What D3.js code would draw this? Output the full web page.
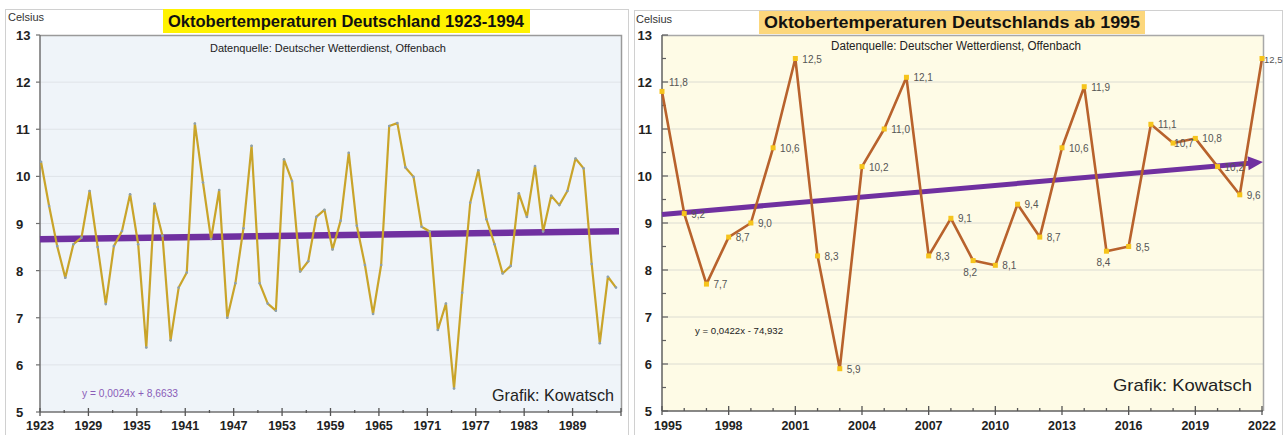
<!DOCTYPE html>
<html><head><meta charset="utf-8">
<script src="https://cdn.jsdelivr.net/npm/d3@7"></script>
<style>
body{margin:0;background:#fff;}
svg{display:block;font-family:"Liberation Sans",Arial,sans-serif;}
</style></head>
<body>
<svg id="c" width="1285" height="435"></svg>
<script>
// ---------- DATA ----------
const leftYears = [1923,1924,1925,1926,1927,1928,1929,1930,1931,1932,1933,1934,1935,1936,1937,1938,1939,1940,1941,1942,1943,1944,1945,1946,1947,1948,1949,1950,1951,1952,1953,1954,1955,1956,1957,1958,1959,1960,1961,1962,1963,1964,1965,1966,1967,1968,1969,1970,1971,1972,1973,1974,1975,1976,1977,1978,1979,1980,1981,1982,1983,1984,1985,1986,1987,1988,1989,1990,1991,1992,1993,1994];
const leftTemps = [10.31,9.37,8.52,7.85,8.56,8.70,9.69,8.5,7.29,8.52,8.84,9.62,8.56,6.37,9.42,8.74,6.52,7.64,7.96,11.12,9.87,8.67,9.71,7.0,7.73,8.9,10.65,7.73,7.3,7.15,10.36,9.9,7.98,8.2,9.14,9.29,8.45,9.06,10.5,8.95,8.12,7.08,8.12,11.07,11.13,10.19,9.99,8.93,8.83,6.74,7.3,5.5,7.53,9.44,10.13,9.09,8.56,7.94,8.1,9.64,9.14,10.22,8.83,9.59,9.39,9.69,10.38,10.17,8.14,6.46,7.87,7.64];
const leftTrend = [8.666, 8.836];           // start / end of linear trend
const leftXTickLabels = [1923,1929,1935,1941,1947,1953,1959,1965,1971,1977,1983,1989];

const rightYears = [1995,1996,1997,1998,1999,2000,2001,2002,2003,2004,2005,2006,2007,2008,2009,2010,2011,2012,2013,2014,2015,2016,2017,2018,2019,2020,2021,2022];
const rightTemps = [11.8,9.2,7.7,8.7,9.0,10.6,12.5,8.3,5.9,10.2,11.0,12.1,8.3,9.1,8.2,8.1,9.4,8.7,10.6,11.9,8.4,8.5,11.1,10.7,10.8,10.2,9.6,12.5];
const rightTrend = [9.18, 10.30];
const rightXTickLabels = [1995,1998,2001,2004,2007,2010,2013,2016,2019,2022];

const yTickLabels = [5,6,7,8,9,10,11,12,13];

const leftTitle = "Oktobertemperaturen Deutschland 1923-1994";
const rightTitle = "Oktobertemperaturen Deutschlands ab 1995";
const sourceText = "Datenquelle: Deutscher Wetterdienst, Offenbach";
const leftEq = "y = 0,0024x + 8,6633";
const rightEq = "y = 0,0422x - 74,932";
const creditText = "Grafik: Kowatsch";
const unitText = "Celsius";

// label placement (style): below instead of right
const belowLabels = {2009:true, 2015:true};

// ---------- DRAW ----------
const svg = d3.select("#c");
const fmt = v => d3.format(".1f")(v).replace(".", ",");

// outer panel frames
svg.append("rect").attr("x",5.5).attr("y",9.5).attr("width",623).attr("height",430).attr("fill","#fff").attr("stroke","#d0d0d0");
svg.append("rect").attr("x",634.5).attr("y",10.5).attr("width",648).attr("height",430).attr("fill","#fff").attr("stroke","#d0d0d0");

function fitText(sel, w){
  sel.attr("textLength", w).attr("lengthAdjust","spacingAndGlyphs");
}

// ===== LEFT CHART =====
(function(){
  const L = {x0:40, x1:621, y0:35, y1:412};
  const x = d3.scaleLinear().domain([1923,1994]).range([41,616]);
  const y = d3.scaleLinear().domain([5,13]).range([L.y1, L.y0]);
  const g = svg.append("g");
  g.append("rect").attr("x",L.x0).attr("y",L.y0).attr("width",L.x1-L.x0).attr("height",L.y1-L.y0)
    .attr("fill","#eff4f9");
  g.selectAll("line.grid").data(yTickLabels.filter(d=>d>5&&d<13)).join("line")
    .attr("x1",L.x0).attr("x2",L.x1).attr("y1",d=>y(d)).attr("y2",d=>y(d))
    .attr("stroke","#dfe3e8").attr("stroke-width",1);
  g.append("path").attr("d",`M${L.x0},${L.y0+0.5}H${L.x1+0.5}V${L.y1}`).attr("fill","none").attr("stroke","#9a9a9a").attr("stroke-width",1.5);
  g.append("line").attr("x1",L.x0).attr("x2",L.x0).attr("y1",L.y0).attr("y2",L.y1).attr("stroke","#707070").attr("stroke-width",1.5);
  g.append("line").attr("x1",L.x0).attr("x2",L.x1).attr("y1",L.y1).attr("y2",L.y1).attr("stroke","#707070").attr("stroke-width",1.5);
  g.selectAll("line.yt").data(yTickLabels).join("line")
    .attr("x1",L.x0-4).attr("x2",L.x0).attr("y1",d=>y(d)).attr("y2",d=>y(d)).attr("stroke","#707070").attr("stroke-width",1.2);
  g.selectAll("text.yl").data(yTickLabels).join("text")
    .attr("x",16).attr("y",d=>y(d)+5).attr("font-size",13).attr("font-weight","bold").attr("fill","#222")
    .text(d=>d);
  const xs = d3.scaleLinear().domain([1923,1995]).range([L.x0, L.x1]);
  const minor = d3.range(1923, 1996, 3);
  g.selectAll("line.xm").data(minor).join("line")
    .attr("x1",d=>xs(d)).attr("x2",d=>xs(d))
    .attr("y1",d=> leftXTickLabels.includes(d)||d===1995 ? L.y1-4 : L.y1-2)
    .attr("y2",d=> leftXTickLabels.includes(d)||d===1995 ? L.y1+4 : L.y1+1)
    .attr("stroke","#555").attr("stroke-width",1.3);
  g.selectAll("text.xl").data(leftXTickLabels).join("text")
    .attr("x",d=>xs(d)).attr("y",430).attr("text-anchor","middle").attr("font-size",12.5).attr("font-weight","bold").attr("fill","#222")
    .text(d=>d);
  g.append("line").attr("x1",L.x0).attr("x2",L.x1-2).attr("y1",y(leftTrend[0])).attr("y2",y(leftTrend[1]))
    .attr("stroke","#7030a0").attr("stroke-width",6.5);
  const line = d3.line().x((d,i)=>x(leftYears[i])).y(d=>y(d));
  g.append("path").datum(leftTemps).attr("d",line).attr("fill","none").attr("stroke","#c9a42a").attr("stroke-width",2.2).attr("stroke-linejoin","round");
  g.selectAll("circle.pt").data(leftTemps).join("circle")
    .attr("cx",(d,i)=>x(leftYears[i])).attr("cy",d=>y(d)).attr("r",1.3).attr("fill","#8aa0b4");
  g.append("text").attr("x",8).attr("y",21).attr("font-size",11).attr("fill","#333").text(unitText);
  const tt = g.append("text").attr("x",346).attr("y",27).attr("text-anchor","middle").attr("font-size",16).attr("font-weight","bold").attr("fill","#111").text(leftTitle);
  fitText(tt, 356);
  g.insert("rect", () => tt.node()).attr("x",163).attr("y",9).attr("width",367).attr("height",24).attr("fill","#fff200");
  const st = g.append("text").attr("x",210).attr("y",52).attr("font-size",11.5).attr("fill","#222")
    .style("font-family","'Liberation Sans Narrow','Arial Narrow',sans-serif").text(sourceText);
  fitText(st, 236);
  const eq = g.append("text").attr("x",82).attr("y",397).attr("font-size",10.5).attr("fill","#8a5cb8").text(leftEq);
  fitText(eq, 96);
  const cr = g.append("text").attr("x",614).attr("y",401).attr("text-anchor","end").attr("font-size",17).attr("fill","#222").text(creditText);
  fitText(cr, 122);
})();

// ===== RIGHT CHART =====
(function(){
  const R = {x0:662, x1:1263, y0:35, y1:411};
  const x = d3.scaleLinear().domain([1995,2022]).range([662,1262]);
  const y = d3.scaleLinear().domain([5,13]).range([R.y1, R.y0]);
  const g = svg.append("g");
  g.append("rect").attr("x",R.x0).attr("y",R.y0).attr("width",R.x1-R.x0).attr("height",R.y1-R.y0)
    .attr("fill","#fefbe6");
  g.selectAll("line.grid").data(yTickLabels.filter(d=>d>5&&d<13)).join("line")
    .attr("x1",R.x0).attr("x2",R.x1).attr("y1",d=>y(d)).attr("y2",d=>y(d))
    .attr("stroke","#dcdcd2").attr("stroke-width",1);
  g.append("path").attr("d",`M${R.x0},${R.y0+0.5}H${R.x1+0.5}V${R.y1}`).attr("fill","none").attr("stroke","#a8a8a8").attr("stroke-width",1.5);
  g.append("line").attr("x1",R.x0).attr("x2",R.x0).attr("y1",R.y0).attr("y2",R.y1).attr("stroke","#606060").attr("stroke-width",1.5);
  g.append("line").attr("x1",R.x0).attr("x2",R.x1).attr("y1",R.y1).attr("y2",R.y1).attr("stroke","#606060").attr("stroke-width",1.5);
  const halfTicks = d3.range(5, 13.01, 0.5);
  g.selectAll("line.yt").data(halfTicks).join("line")
    .attr("x1",R.x0).attr("x2",d=> Number.isInteger(d) ? R.x0+6 : R.x0+4)
    .attr("y1",d=>y(d)).attr("y2",d=>y(d)).attr("stroke","#606060").attr("stroke-width",1.2);
  g.selectAll("text.yl").data(yTickLabels).join("text")
    .attr("x",652).attr("y",d=>y(d)+5).attr("text-anchor","end").attr("font-size",13).attr("font-weight","bold").attr("fill","#222")
    .text(d=>d);
  g.selectAll("line.xt").data(rightYears).join("line")
    .attr("x1",d=>x(d)).attr("x2",d=>x(d))
    .attr("y1",d=> rightXTickLabels.includes(d) ? R.y1-5 : R.y1-3)
    .attr("y2",d=> rightXTickLabels.includes(d) ? R.y1+4 : R.y1)
    .attr("stroke","#555").attr("stroke-width",1.3);
  g.selectAll("text.xl").data(rightXTickLabels).join("text")
    .attr("x",d=>x(d)+(d===1995?6:0)).attr("y",430).attr("text-anchor","middle").attr("font-size",12.5).attr("font-weight","bold").attr("fill","#222")
    .text(d=>d);
  const tx0 = R.x0, tx1 = 1263, ty0 = y(rightTrend[0]), ty1 = y(rightTrend[1]);
  const ang = Math.atan2(ty1-ty0, tx1-tx0);
  const ah = 15, aw = 7;
  const bx = tx1 - ah*Math.cos(ang), by = ty1 - ah*Math.sin(ang);
  g.append("line").attr("x1",tx0).attr("y1",ty0).attr("x2",bx+1).attr("y2",by).attr("stroke","#7030a0").attr("stroke-width",5);
  g.append("path").attr("d",`M${tx1},${ty1}L${bx - aw*Math.sin(ang)},${by + aw*Math.cos(ang)}L${bx + aw*Math.sin(ang)},${by - aw*Math.cos(ang)}Z`).attr("fill","#7030a0");
  const line = d3.line().x((d,i)=>x(rightYears[i])).y(d=>y(d));
  g.append("path").datum(rightTemps).attr("d",line).attr("fill","none").attr("stroke","#b8622c").attr("stroke-width",2.6).attr("stroke-linejoin","round");
  g.selectAll("rect.pt").data(rightTemps).join("rect")
    .attr("x",(d,i)=>x(rightYears[i])-2.5).attr("y",d=>y(d)-2.5).attr("width",5).attr("height",5).attr("fill","#f6c41c");
  const last = rightYears.length - 1;
  g.selectAll("text.lb").data(rightTemps).join("text")
    .attr("x",(d,i)=> belowLabels[rightYears[i]] ? x(rightYears[i])-3 : x(rightYears[i])+ (rightYears[i]===2018?1:(i===last?2:7)))
    .attr("y",(d,i)=> belowLabels[rightYears[i]] ? y(d)+15 : y(d)+ (i===0?-5:4))
    .attr("text-anchor",(d,i)=> belowLabels[rightYears[i]] ? "middle" : "start")
    .attr("font-size",(d,i)=> i===last ? 9.5 : 10).attr("fill","#555").text(d=>fmt(d));
  g.append("text").attr("x",636).attr("y",23).attr("font-size",11).attr("fill","#333").text(unitText);
  const tt = g.append("text").attr("x",952).attr("y",28).attr("text-anchor","middle").attr("font-size",17).attr("font-weight","bold").attr("fill","#111").text(rightTitle);
  fitText(tt, 376);
  g.insert("rect", () => tt.node()).attr("x",759).attr("y",11).attr("width",386).attr("height",23).attr("fill","#fcd77c");
  const st = g.append("text").attr("x",831).attr("y",50).attr("font-size",12).attr("fill","#222")
    .style("font-family","'Liberation Sans Narrow','Arial Narrow',sans-serif").text(sourceText);
  fitText(st, 250);
  const eq = g.append("text").attr("x",695).attr("y",334).attr("font-size",9).attr("fill","#222").text(rightEq);
  fitText(eq, 88);
  const cr = g.append("text").attr("x",1252).attr("y",391).attr("text-anchor","end").attr("font-size",17).attr("fill","#222").text(creditText);
  fitText(cr, 139);
})();
</script>
</body></html>
